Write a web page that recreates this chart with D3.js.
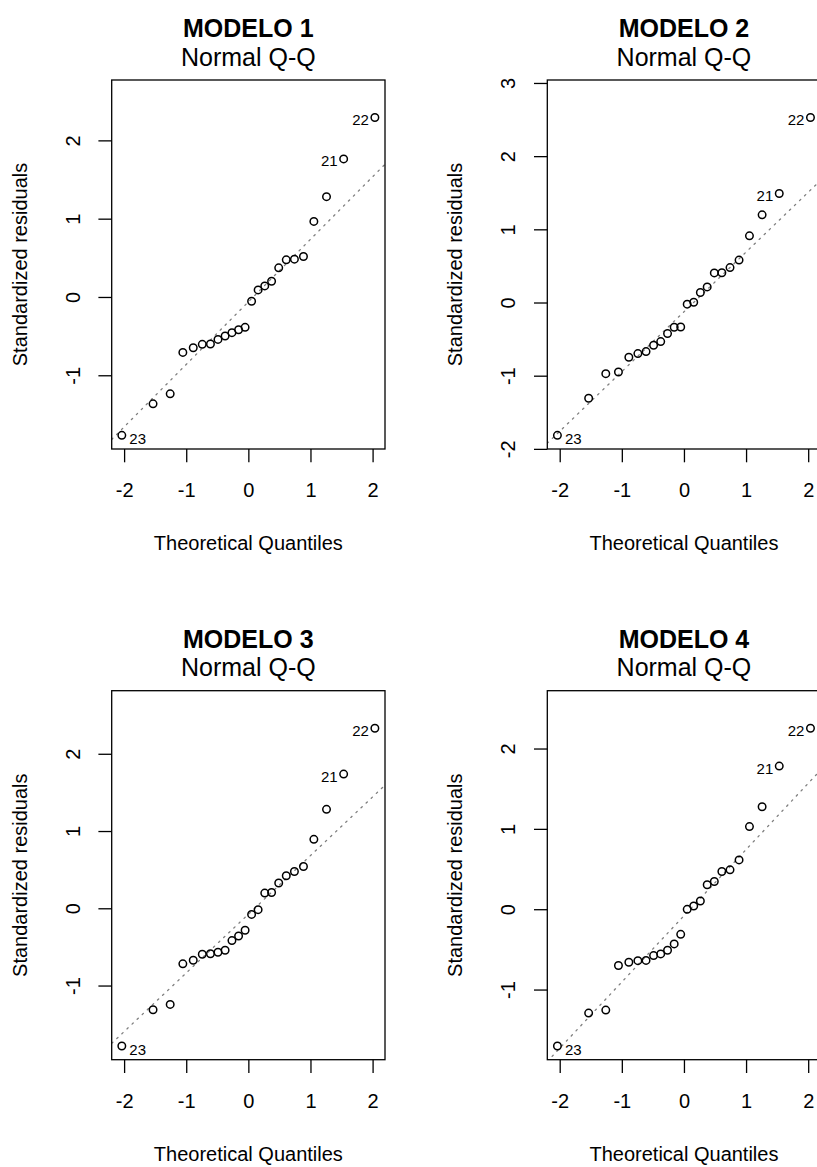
<!DOCTYPE html>
<html><head><meta charset="utf-8">
<script src="https://cdn.jsdelivr.net/npm/d3@7"></script>
<style>
body{margin:0;background:#fff}
svg{display:block;background:#fff}
text{font-family:"Liberation Sans",Arial,Helvetica,sans-serif;fill:#000}
</style>
</head><body>
<svg id="chart" width="817" height="1167"></svg>
<script>
// ---------- data ----------
const modelNames = ["MODELO 1", "MODELO 2", "MODELO 3", "MODELO 4"];
const caption = "Normal Q-Q";
const xTitle = "Theoretical Quantiles";
const yTitle = "Standardized residuals";

// theoretical normal quantiles for n = 24
const theoQ = [-2.0368, -1.5341, -1.2582, -1.0545, -0.8871, -0.7416, -0.6103, -0.4888,
               -0.3741, -0.2641, -0.1573, -0.0522, 0.0522, 0.1573, 0.2641, 0.3741,
               0.4888, 0.6103, 0.7416, 0.8871, 1.0545, 1.2582, 1.5341, 2.0368];

// sorted standardized residuals per model
const resid1 = [-1.767, -1.365, -1.237, -0.708, -0.648, -0.605, -0.600, -0.542, -0.499, -0.456, -0.418, -0.388,
                -0.055, 0.090, 0.141, 0.201, 0.372, 0.474, 0.483, 0.517, 0.965, 1.281, 1.763, 2.292];
const resid2 = [-1.815, -1.309, -0.972, -0.949, -0.748, -0.698, -0.671, -0.584, -0.534, -0.425, -0.338, -0.334,
                -0.023, 0.004, 0.136, 0.213, 0.404, 0.406, 0.477, 0.580, 0.911, 1.198, 1.489, 2.528];
const resid3 = [-1.783, -1.313, -1.244, -0.719, -0.673, -0.595, -0.588, -0.569, -0.543, -0.418, -0.358, -0.285,
                -0.079, -0.018, 0.197, 0.205, 0.327, 0.421, 0.476, 0.541, 0.892, 1.281, 1.737, 2.331];
const resid4 = [-1.703, -1.293, -1.256, -0.701, -0.660, -0.640, -0.637, -0.577, -0.556, -0.511, -0.432, -0.313,
                -0.002, 0.040, 0.102, 0.304, 0.345, 0.469, 0.490, 0.614, 1.028, 1.276, 1.781, 2.253];

// labelled observations: rank position in sorted residuals -> observation id
const idRanks = [0, 22, 23];
const idLabels = ["23", "21", "22"];

const xTicks = [-2, -1, 0, 1, 2];
const yTicks1 = [-1, 0, 1, 2];
const yTicks2 = [-2, -1, 0, 1, 2, 3];
const yTicks3 = [-1, 0, 1, 2];
const yTicks4 = [-1, 0, 1, 2];

const residAll = [resid1, resid2, resid3, resid4];
const yTicksAll = [yTicks1, yTicks2, yTicks3, yTicks4];

// ---------- layout ----------
const svg = d3.select("#chart");
const colLeft = [111.7, 547.3];
const rowTop = [80, 690.7];
const W = 273.3, H = 369;
const lineH = 26.6;          // one margin line
const tickLen = 13.3;
const lw = 1.3;
const fmt = d => d < 0 ? "-" + Math.abs(d) : String(d);

function panel(k) {
  const L = colLeft[k % 2], T = rowTop[Math.floor(k / 2)];
  const res = residAll[k];
  const g = svg.append("g");

  const xr = d3.extent(theoQ), dx = xr[1] - xr[0];
  const x = d3.scaleLinear().domain([xr[0] - 0.04 * dx, xr[1] + 0.04 * dx]).range([L, L + W]);
  const yr = d3.extent(res);
  const yTop = yr[1] + 0.075 * (yr[1] - yr[0]);
  const dy = yTop - yr[0];
  const y = d3.scaleLinear().domain([yr[0] - 0.04 * dy, yTop + 0.04 * dy]).range([T + H, T]);

  const cid = "clip" + k;
  svg.append("clipPath").attr("id", cid).append("rect")
     .attr("x", L).attr("y", T).attr("width", W).attr("height", H);

  // qq line through the quartiles
  const q1 = d3.quantile(res, 0.25), q3 = d3.quantile(res, 0.75);
  const z = 0.6744898;
  const slope = (q3 - q1) / (2 * z);
  const icpt = q1 + slope * z;
  const xd = x.domain();
  g.append("line").attr("clip-path", `url(#${cid})`)
    .attr("x1", x(xd[0])).attr("y1", y(icpt + slope * xd[0]))
    .attr("x2", x(xd[1])).attr("y2", y(icpt + slope * xd[1]))
    .attr("stroke", "#7f7f7f").attr("stroke-width", 1.3)
    .attr("stroke-linecap", "round").attr("stroke-dasharray", "1.6,5.4");

  // points
  g.selectAll("circle").data(res).join("circle")
    .attr("cx", (d, i) => x(theoQ[i])).attr("cy", d => y(d))
    .attr("r", 3.75).attr("fill", "none").attr("stroke", "#000").attr("stroke-width", 1.5);

  // id labels
  const midX = (xd[0] + xd[1]) / 2;
  idRanks.forEach((r, j) => {
    const px = x(theoQ[r]), py = y(res[r]);
    const right = theoQ[r] < midX;
    g.append("text").attr("x", right ? px + 7.5 : px - 6).attr("y", py + (right ? 9 : 7.5))
      .attr("text-anchor", right ? "start" : "end").attr("font-size", 15).text(idLabels[j]);
  });

  // box
  g.append("rect").attr("x", L).attr("y", T).attr("width", W).attr("height", H)
    .attr("fill", "none").attr("stroke", "#000").attr("stroke-width", lw);

  // x axis
  const gx = g.append("g").attr("transform", `translate(0,${T + H})`)
    .call(d3.axisBottom(x).tickValues(xTicks).tickSize(tickLen).tickSizeOuter(0));
  gx.select(".domain").remove();
  gx.selectAll("line").attr("stroke", "#000").attr("stroke-width", lw);
  gx.selectAll("text").attr("y", 1.8 * lineH).attr("dy", null).attr("font-size", 20)
    .attr("font-family", '"Liberation Sans",Arial,sans-serif').attr("fill", "#000").text(fmt);

  // y axis
  const gy = g.append("g").attr("transform", `translate(${L},0)`)
    .call(d3.axisLeft(y).tickValues(yTicksAll[k]).tickSize(tickLen).tickSizeOuter(0));
  gy.select(".domain").remove();
  gy.selectAll("line").attr("stroke", "#000").attr("stroke-width", lw);
  gy.selectAll("text").attr("x", null).attr("y", null).attr("dy", null)
    .attr("transform", `translate(${-1.2 * lineH},0) rotate(-90)`).attr("text-anchor", "middle")
    .attr("font-size", 20).attr("font-family", '"Liberation Sans",Arial,sans-serif').attr("fill", "#000")
    .text(fmt);

  // axis titles
  g.append("text").attr("x", L + W / 2).attr("y", T + H + 3.8 * lineH).attr("text-anchor", "middle")
    .attr("font-size", 20).text(xTitle);
  g.append("text").attr("transform", `translate(${L - 3.2 * lineH},${T + H / 2}) rotate(-90)`)
    .attr("text-anchor", "middle").attr("font-size", 20).text(yTitle);

  // titles
  g.append("text").attr("x", L + W / 2).attr("y", T - 43).attr("text-anchor", "middle")
    .attr("font-size", 25).attr("font-weight", "bold").text(modelNames[k]);
  g.append("text").attr("x", L + W / 2).attr("y", T - 14.5).attr("text-anchor", "middle")
    .attr("font-size", 25).text(caption);
}

[0, 1, 2, 3].forEach(panel);
</script>
</body></html>
